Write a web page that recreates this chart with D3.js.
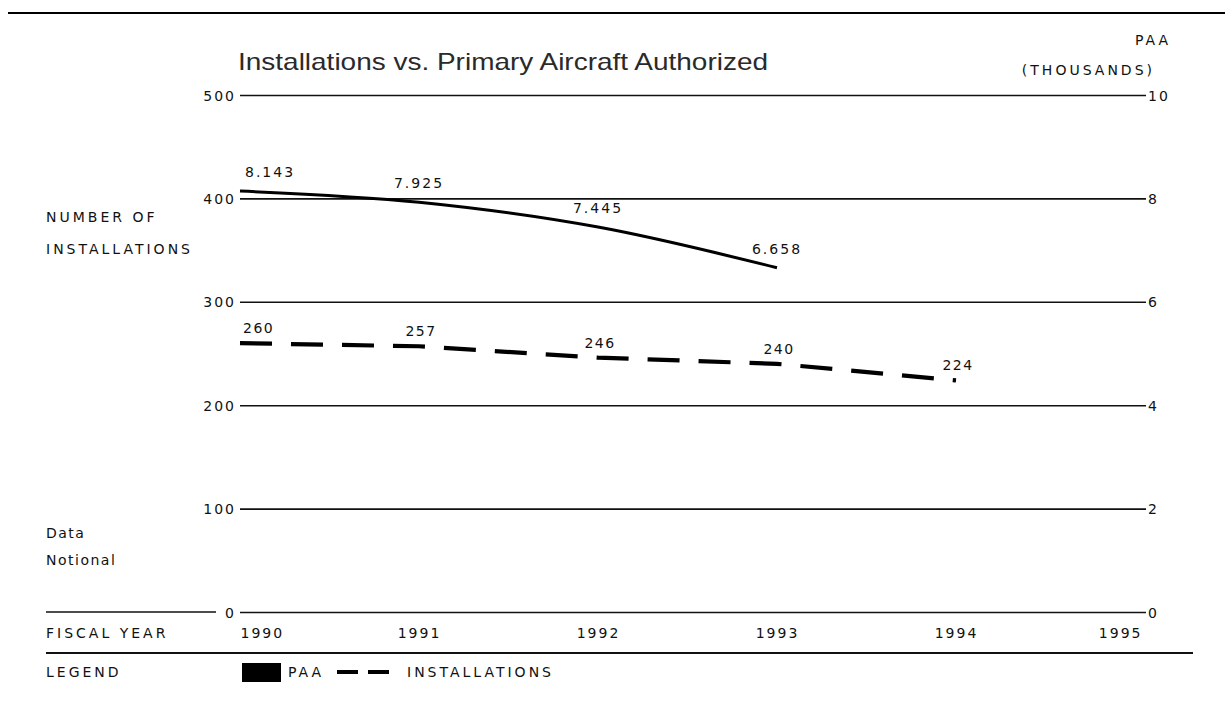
<!DOCTYPE html>
<html><head><meta charset="utf-8">
<script src="https://cdn.jsdelivr.net/npm/d3@7"></script>
<style>
html,body{margin:0;padding:0;background:#fff;}
svg{display:block;}
text{font-family:"DejaVu Sans","Liberation Sans",Arial,sans-serif;fill:#111;}
</style></head>
<body>
<svg id="c" width="1225" height="707"></svg>
<script>
const years = [1990, 1991, 1992, 1993, 1994, 1995];
const paaYears = [1990, 1991, 1992, 1993];
const paaValues = [8.143, 7.925, 7.445, 6.658];
const paaLabels = ["8.143", "7.925", "7.445", "6.658"];
const instYears = [1990, 1991, 1992, 1993, 1994];
const instValues = [260, 257, 246, 240, 224];
const leftTicks = [0, 100, 200, 300, 400, 500];
const rightTicks = [0, 2, 4, 6, 8, 10];

const svg = d3.select("#c");
const capStyle = s => s.style("font-size", "14px").style("letter-spacing", "3px");
const numStyle = s => s.style("font-size", "14px").style("letter-spacing", "2px");

const x = d3.scaleLinear().domain([1990, 1995]).range([240, 1135]);
const yL = d3.scaleLinear().domain([0, 500]).range([612, 95]);
const yR = d3.scaleLinear().domain([0, 10]).range([612, 95]);
const gridRight = 1146;

// top rule
svg.append("line").attr("x1", 8).attr("x2", 1225).attr("y1", 13).attr("y2", 13)
  .attr("stroke", "#000").attr("stroke-width", 2.2);

// title
svg.append("text").attr("x", 238).attr("y", 70).text("Installations vs. Primary Aircraft Authorized")
  .attr("textLength", 530).attr("lengthAdjust", "spacingAndGlyphs")
  .style("font-family", "'Liberation Sans',Arial,sans-serif")
  .style("font-size", "24px").style("fill", "#2a2a2a");

svg.append("text").attr("x", 1171).attr("y", 45).attr("text-anchor", "end").text("PAA").call(capStyle);
svg.append("text").attr("x", 1155).attr("y", 75).attr("text-anchor", "end").text("(THOUSANDS)").call(capStyle);

// left axis with gridlines
const gL = svg.append("g").attr("transform", "translate(240,0)")
  .call(d3.axisLeft(yL).tickValues(leftTicks).tickSize(-(gridRight - 240)).tickPadding(6));
gL.select(".domain").remove();
gL.selectAll(".tick line").attr("stroke", "#111").attr("stroke-width", 1.6);
gL.selectAll(".tick text").call(numStyle).attr("dy", "0.36em").attr("dx", "2px");

// right axis labels
const gR = svg.append("g").attr("transform", `translate(${gridRight},0)`)
  .call(d3.axisRight(yR).tickValues(rightTicks).tickSize(0).tickPadding(2));
gR.select(".domain").remove();
gR.selectAll(".tick text").call(numStyle).attr("dy", "0.36em");

// zero line extension at left
svg.append("line").attr("x1", 46).attr("x2", 216).attr("y1", yL(0)).attr("y2", yL(0))
  .attr("stroke", "#111").attr("stroke-width", 1.6);

// axis titles
svg.append("text").attr("x", 46).attr("y", 222).text("NUMBER OF").call(capStyle);
svg.append("text").attr("x", 46).attr("y", 254).text("INSTALLATIONS").call(capStyle);
svg.append("text").attr("x", 46).attr("y", 538).text("Data").style("font-size", "14px").style("letter-spacing", "1.5px");
svg.append("text").attr("x", 46).attr("y", 565).text("Notional").style("font-size", "14px").style("letter-spacing", "1.5px");

// x axis years
const gX = svg.append("g").attr("transform", `translate(0,${yL(0)})`)
  .call(d3.axisBottom(x).tickValues(years).tickFormat(d3.format("d")).tickSize(0).tickPadding(21));
gX.select(".domain").remove();
gX.selectAll(".tick text").call(numStyle).attr("dy", "0.36em");
gX.selectAll(".tick text").filter(d => d === years[0]).attr("text-anchor", "start");
gX.selectAll(".tick text").filter(d => d === years[years.length - 1]).attr("text-anchor", "end").attr("dx", "7px");
svg.append("text").attr("x", 46).attr("y", 638).text("FISCAL YEAR").call(capStyle);

// separator
svg.append("line").attr("x1", 46).attr("x2", 1193).attr("y1", 653).attr("y2", 653)
  .attr("stroke", "#111").attr("stroke-width", 1.8);

// PAA line
const paaData = paaYears.map((yr, i) => ({yr, v: paaValues[i], lab: paaLabels[i]}));
const paaLine = d3.line().x(d => x(d.yr)).y(d => yR(d.v)).curve(d3.curveMonotoneX);
svg.append("path").datum(paaData).attr("d", paaLine)
  .attr("fill", "none").attr("stroke", "#000").attr("stroke-width", 3);

// Installations line
const instData = instYears.map((yr, i) => ({yr, v: instValues[i]}));
const instLine = d3.line().x(d => x(d.yr)).y(d => yL(d.v));
svg.append("path").datum(instData).attr("d", instLine)
  .attr("fill", "none").attr("stroke", "#000").attr("stroke-width", 4.2)
  .attr("stroke-dasharray", "32,19");

// data labels
svg.selectAll(".paalab").data(paaData).enter().append("text")
  .attr("x", (d, i) => i === 0 ? x(d.yr) + 5 : x(d.yr))
  .attr("y", d => yR(d.v) - 14)
  .attr("text-anchor", (d, i) => i === 0 ? "start" : "middle")
  .text(d => d.lab).call(numStyle);

svg.selectAll(".instlab").data(instData).enter().append("text")
  .attr("x", (d, i) => i === 0 ? x(d.yr) + 3 : x(d.yr) + 2)
  .attr("y", d => yL(d.v) - 10)
  .attr("text-anchor", (d, i) => i === 0 ? "start" : "middle")
  .text(d => d.v).call(numStyle).style("letter-spacing", "1.5px");

// legend
svg.append("text").attr("x", 46).attr("y", 677).text("LEGEND").call(capStyle);
svg.append("rect").attr("x", 242).attr("y", 663).attr("width", 39).attr("height", 19).attr("fill", "#000");
svg.append("text").attr("x", 288).attr("y", 677).text("PAA").call(capStyle);
svg.append("line").attr("x1", 337).attr("x2", 398).attr("y1", 672).attr("y2", 672)
  .attr("stroke", "#000").attr("stroke-width", 4).attr("stroke-dasharray", "21,10");
svg.append("text").attr("x", 407).attr("y", 677).text("INSTALLATIONS").call(capStyle);
</script>
</body></html>
